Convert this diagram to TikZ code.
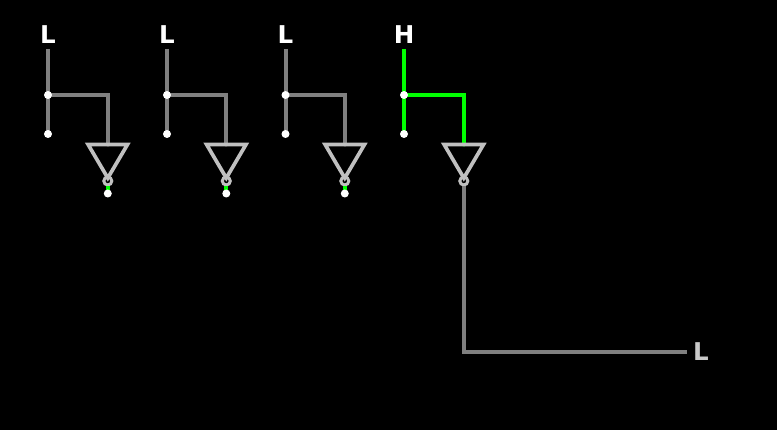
\documentclass[tikz,border=0pt]{standalone}
\usepackage{fontspec}
\setmainfont{DejaVu Sans}
\definecolor{wire}{RGB}{128,128,128}
\definecolor{gate}{RGB}{192,192,192}
\definecolor{high}{RGB}{0,255,0}
\definecolor{outtext}{RGB}{200,200,200}
\usetikzlibrary{calc}
\tikzset{
  % wire
  cstwire/.style   ={line width=4pt,line cap=butt},
  % gate
  cstgate/.style   ={line width=3.7pt,draw=gate,miter limit=3},
  cstbubble/.style ={radius=4,line width=3pt,draw=gate},
  % dot
  cstdot/.style    ={radius=4,fill=white},
  % text
  cstlabel/.style  ={font=\fontsize{24.5}{24.5}\selectfont\bfseries,text=white,inner sep=0pt}
}
\begin{document}
\begin{tikzpicture}[x=1pt,y=-1pt]
  \fill[black] (0,0) rectangle (777,430);
  \useasboundingbox (0,0) rectangle (777,430);
  \foreach \i/\x/\g/\val/\col in {1/48/107.8/L/wire,2/167/226.3/L/wire,3/285.5/344.8/L/wire,4/404/463.8/H/high}{
    \coordinate (top\i) at (\x,49);
    \coordinate (join\i) at (\x,95);
    \coordinate (low\i) at (\x,134);
    \coordinate (corner\i) at (\g,95);
    \coordinate (in\i) at (\g,144.5);
    \coordinate (bub\i) at (\g,181);
    \coordinate (left\i) at (\g-19.7,144.5);
    \coordinate (right\i) at (\g+19.7,144.5);
    \coordinate (tip\i) at (\g,178);
    \node[cstlabel] (name\i) at (\x,34.5) {\val};
    \draw[cstwire,\col] (top\i)--(low\i);
    \draw[cstwire,\col,line cap=round] (join\i)--(corner\i)--(in\i);
    \draw[cstgate] (left\i)--(right\i)--(tip\i)--cycle;
    \draw[cstbubble] (bub\i) circle;
    \fill[cstdot] (join\i) circle;
    \fill[cstdot] (low\i) circle;
  }
  % stubs after the first three gates
  \foreach \i/\g in {1/107.8,2/226.3,3/344.8}{
    \coordinate (out\i) at (\g,193.5);
    \draw[cstwire,high] ($(bub\i)+(0,5.5)$)--(out\i);
    \fill[cstdot] (out\i) circle;
  }
  % last gate to the output
  \coordinate (bend) at (463.8,352);
  \coordinate (end) at (687,352);
  \draw[cstwire,wire] ($(bub4)+(0,5.5)$)--(bend)--(end);
  \node[cstlabel,text=outtext] (result) at (701,352) {L};
\end{tikzpicture}
\end{document}
